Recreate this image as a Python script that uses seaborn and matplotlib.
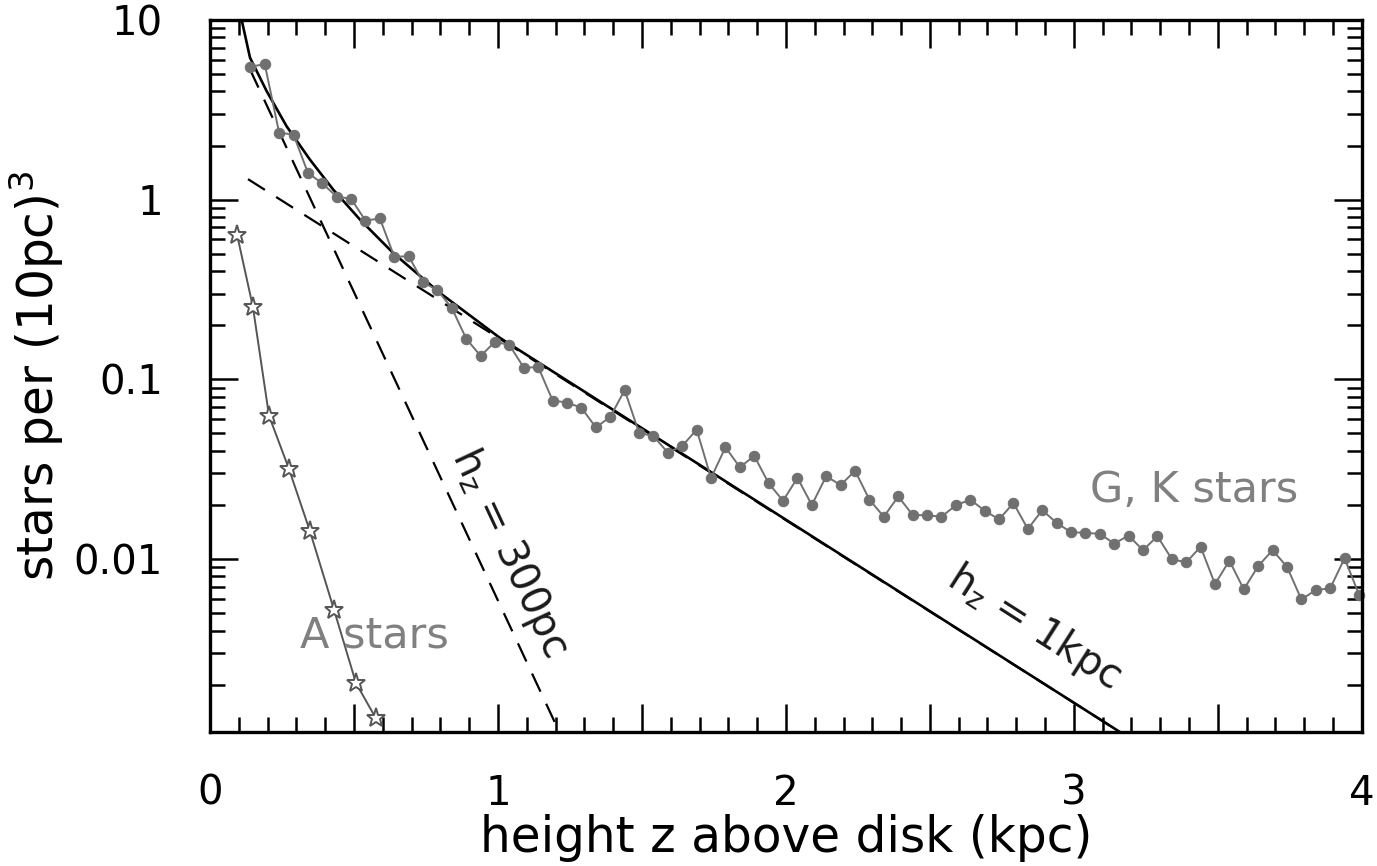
import numpy as np
import matplotlib
matplotlib.use("Agg")
import matplotlib.pyplot as plt
from matplotlib.ticker import MultipleLocator, FuncFormatter, LogLocator, NullFormatter
import seaborn as sns

# G, K stars: height z (kpc) and density (stars per (10pc)^3)
gk_z = [0.14, 0.19, 0.24, 0.29, 0.34, 0.39, 0.44, 0.49, 0.54, 0.59,
        0.64, 0.69, 0.74, 0.79, 0.84, 0.89, 0.94, 0.99, 1.04, 1.09,
        1.14, 1.19, 1.24, 1.29, 1.34, 1.39, 1.44, 1.49, 1.54, 1.59,
        1.64, 1.69, 1.74, 1.79, 1.84, 1.89, 1.94, 1.99, 2.04, 2.09,
        2.14, 2.19, 2.24, 2.29, 2.34, 2.39, 2.44, 2.49, 2.54, 2.59,
        2.64, 2.69, 2.74, 2.79, 2.84, 2.89, 2.94, 2.99, 3.04, 3.09,
        3.14, 3.19, 3.24, 3.29, 3.34, 3.39, 3.44, 3.49, 3.54, 3.59,
        3.64, 3.69, 3.74, 3.79, 3.84, 3.89, 3.94, 3.99]
gk_n = [5.47, 5.69, 2.36, 2.30, 1.41, 1.23, 1.04, 1.01, 0.764, 0.786,
        0.481, 0.484, 0.347, 0.313, 0.249, 0.168, 0.135, 0.162, 0.155, 0.116,
        0.117, 0.0762, 0.0743, 0.0694, 0.0540, 0.0618, 0.0871, 0.0504, 0.0483, 0.0391,
        0.0426, 0.0525, 0.0282, 0.0419, 0.0324, 0.0375, 0.0264, 0.0211, 0.0283, 0.0200,
        0.0289, 0.0258, 0.0310, 0.0214, 0.0172, 0.0223, 0.0176, 0.0175, 0.0172, 0.0199,
        0.0214, 0.0186, 0.0166, 0.0205, 0.0147, 0.0187, 0.0159, 0.0141, 0.0140, 0.0138,
        0.0122, 0.0135, 0.0112, 0.0134, 0.0100, 0.00957, 0.0117, 0.00726, 0.0098, 0.00678,
        0.00914, 0.0112, 0.00906, 0.00596, 0.00672, 0.00687, 0.0101, 0.00634]

# A stars
a_z = [0.094, 0.149, 0.205, 0.274, 0.347, 0.431, 0.507, 0.576]
a_n = [0.638, 0.253, 0.0627, 0.0318, 0.0143, 0.0052, 0.00204, 0.0013]

# model curves
total_z = [0.11, 0.139, 0.197, 0.266, 0.347, 0.428, 0.521, 0.636, 0.799, 1.007, 3.16]
total_n = [10.0, 6.16, 4.01, 2.56, 1.67, 1.137, 0.774, 0.505, 0.302, 0.170, 0.00109]
thin_z = [0.139, 1.201]
thin_n = [5.30, 0.00120]
thick_z = [0.132, 3.16]
thick_n = [1.30, 0.00109]

sns.set_style("ticks")
plt.rcParams["font.family"] = ["DejaVu Sans"]
plt.rcParams["mathtext.default"] = "regular"
plt.rcParams["text.color"] = "black"
plt.rcParams["axes.labelcolor"] = "black"
plt.rcParams["xtick.color"] = "black"
plt.rcParams["ytick.color"] = "black"

fig = plt.figure(figsize=(13.77, 8.66), dpi=100)
ax = fig.add_axes([0.1525, 0.1547, 0.8365, 0.8223])

gray = "#707070"
sns.lineplot(x=thin_z, y=thin_n, ax=ax, color="black", lw=1.6,
             linestyle=(0, (9, 6)))
sns.lineplot(x=thick_z, y=thick_n, ax=ax, color="black", lw=1.6,
             linestyle=(0, (9, 6)))
sns.lineplot(x=total_z, y=total_n, ax=ax, color="black", lw=1.9)
sns.lineplot(x=gk_z, y=gk_n, ax=ax, color=gray, lw=1.4, marker="o",
             markersize=7.5, markeredgecolor=gray, markerfacecolor=gray,
             clip_on=False)
sns.lineplot(x=a_z, y=a_n, ax=ax, color="#555555", lw=1.4, marker="*",
             markersize=14, markerfacecolor="white", markeredgecolor="#555555",
             markeredgewidth=1.4, clip_on=False)

ax.set_yscale("log")
ax.set_xlim(0, 4)
ax.set_ylim(0.00109, 10)

ax.xaxis.set_major_locator(MultipleLocator(0.5))
ax.xaxis.set_minor_locator(MultipleLocator(0.1))
ax.xaxis.set_major_formatter(FuncFormatter(
    lambda v, p: f"{int(round(v))}" if abs(v - round(v)) < 1e-6 else ""))
ax.yaxis.set_major_locator(LogLocator(base=10))
ax.yaxis.set_minor_locator(LogLocator(base=10, subs=np.arange(2, 10)))
ax.yaxis.set_major_formatter(FuncFormatter(lambda v, p: f"{v:g}"))
ax.yaxis.set_minor_formatter(NullFormatter())

ax.tick_params(which="both", direction="in", top=True, right=True,
               width=1.8, labelsize=29, color="black", labelcolor="black")
ax.tick_params(which="major", length=20)
ax.tick_params(which="minor", length=11)
ax.tick_params(axis="x", pad=30)
ax.tick_params(axis="y", pad=34)
for s in ax.spines.values():
    s.set_linewidth(2.4)
    s.set_color("black")

ax.set_xlabel("height z above disk (kpc)", fontsize=35, labelpad=0)
ax.set_ylabel(r"stars per (10pc)$^3$", fontsize=35, labelpad=5)

ax.text(3.056, 0.0242, "G, K stars", fontsize=31, color="#808080",
        ha="left", va="center")
ax.text(0.3125, 0.00377, "A stars", fontsize=31, color="#808080",
        ha="left", va="center")
ax.text(1.04, 0.0108, r"$h_z$ = 300pc", fontsize=29, color="#1a1a1a",
        ha="center", va="center", rotation=-65, rotation_mode="anchor")
ax.text(2.86, 0.00415, r"$h_z$ = 1kpc", fontsize=29, color="#1a1a1a",
        ha="center", va="center", rotation=-32.5, rotation_mode="anchor")

fig.savefig("out.png", dpi=100)
